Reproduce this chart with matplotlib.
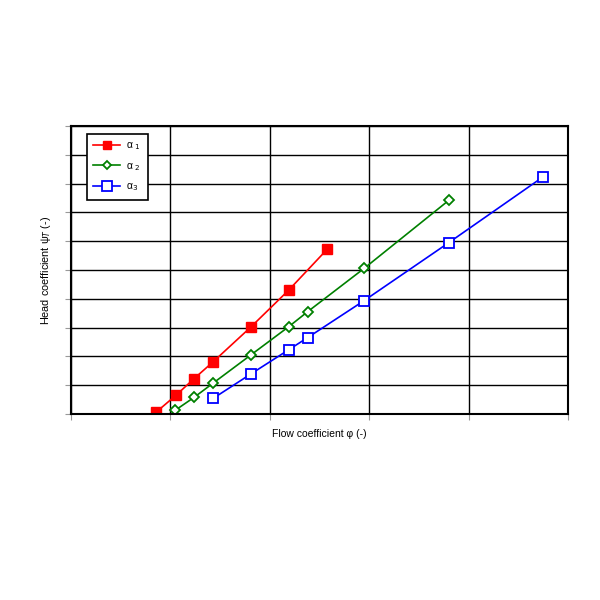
import matplotlib
matplotlib.use("Agg")
import matplotlib.pyplot as plt

# Values (grid units: x 0..5, y 0..10)
phi_a1 = [0.86, 1.06, 1.24, 1.43, 1.81, 2.19, 2.58]
psi_a1 = [0.07, 0.66, 1.23, 1.81, 3.02, 4.30, 5.73]

phi_a2 = [1.05, 1.24, 1.43, 1.81, 2.19, 2.38, 2.95, 3.80]
psi_a2 = [0.13, 0.58, 1.07, 2.05, 3.03, 3.55, 5.06, 7.42]

phi_a3 = [1.43, 1.81, 2.19, 2.38, 2.95, 3.80, 4.75]
psi_a3 = [0.54, 1.39, 2.23, 2.65, 3.94, 5.95, 8.24]

labels = [r"α $_1$", r"α $_2$", r"α$_3$"]

plt.rcParams["font.family"] = ["Liberation Sans", "DejaVu Sans"]

fig = plt.figure(figsize=(6, 6), dpi=100)
ax = fig.add_axes([0.118, 0.31, 0.829, 0.48])

ax.plot(phi_a1, psi_a1, color="red", lw=1.2, marker="s", ms=7,
        mfc="red", mec="red", label=labels[0])
ax.plot(phi_a2, psi_a2, color="green", lw=1.2, marker="D", ms=5,
        mfc="white", mec="green", mew=1.3, label=labels[1])
ax.plot(phi_a3, psi_a3, color="blue", lw=1.2, marker="s", ms=7.5,
        mfc="white", mec="blue", mew=1.3, label=labels[2])

ax.set_xlim(0, 5)
ax.set_ylim(0, 10)
ax.set_xticks(range(6))
ax.set_yticks(range(11))
ax.set_xticklabels([])
ax.set_yticklabels([])
ax.tick_params(direction="out", length=4, width=0.8, color="#999999")
ax.grid(True, color="black", lw=1.0)
ax.set_axisbelow(True)
for s in ax.spines.values():
    s.set_linewidth(1.5)
    s.set_color("black")

ax.set_xlabel("Flow coefficient φ (-)", fontsize=7.5, labelpad=3)
ax.set_ylabel(r"Head coefficient ψ$_T$ (-)", fontsize=7.8, labelpad=5)

leg = ax.legend(loc="upper left", bbox_to_anchor=(0.032, 0.972), fontsize=7.5,
                frameon=True, fancybox=False, handlelength=2.6,
                borderpad=0.6, labelspacing=0.85, borderaxespad=0,
                handletextpad=0.6, markerscale=0.9)
leg.get_frame().set_edgecolor("black")
leg.get_frame().set_linewidth(1.2)
leg.get_frame().set_alpha(1)

fig.savefig("out.png", dpi=100)
